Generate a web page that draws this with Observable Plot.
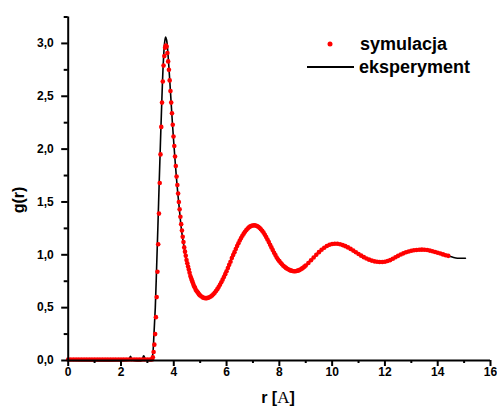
<!DOCTYPE html>
<html><head><meta charset="utf-8">
<script src="https://cdn.jsdelivr.net/npm/d3@7"></script>
<script src="https://cdn.jsdelivr.net/npm/@observablehq/plot@0.6"></script>
<style>body{margin:0;background:#fff}</style>
</head><body><div id="chart"></div>
<script>
// tick values
const xTicks = [0, 2, 4, 6, 8, 10, 12, 14, 16];
const xMinor = [1, 3, 5, 7, 9, 11, 13, 15];
const yTicks = [0, 0.5, 1, 1.5, 2, 2.5, 3];
const yMinor = [0.25, 0.75, 1.25, 1.75, 2.25, 2.75, 3.25];

// legend labels
const seriesNames = ["symulacja", "eksperyment"];

// experiment (line)
const expR = [0,2.2,2.3,2.36,2.42,2.5,2.78,2.86,2.94,3.05,
  3.15,3.2,3.25,3.3,3.35,3.4,3.45,3.5,3.55,3.6,
  3.65,3.69,3.73,3.78,3.85,3.9,3.95,4.0,4.05,4.1,
  4.15,4.2,4.3,4.4,4.5,4.6,4.7,4.8,4.9,5.0,
  5.1,5.2,5.3,5.4,5.5,5.6,5.7,5.8,5.9,6.0,
  6.1,6.2,6.3,6.4,6.5,6.6,6.7,6.8,6.9,7.0,
  7.1,7.2,7.3,7.4,7.5,7.6,7.7,7.8,7.9,8.0,
  8.2,8.4,8.6,8.8,9.0,9.2,9.4,9.6,9.8,10.0,
  10.2,10.4,10.6,10.8,11.0,11.2,11.4,11.6,11.8,12.0,
  12.2,12.4,12.6,12.8,13.0,13.2,13.4,13.6,13.8,14.0,
  14.2,14.4,14.6,14.75,15.05];
const expG = [0,0,0.005,0.04,0.005,0,0,0.045,0.005,0,
  0,0.05,0.25,0.50,0.88,1.28,1.70,2.10,2.48,2.80,
  3.00,3.06,3.03,2.90,2.64,2.44,2.24,2.06,1.89,1.73,
  1.59,1.46,1.22,1.06,0.93,0.83,0.75,0.685,0.64,0.61,
  0.59,0.58,0.585,0.60,0.625,0.655,0.695,0.745,0.80,0.855,
  0.915,0.975,1.03,1.09,1.145,1.19,1.228,1.258,1.275,1.285,
  1.283,1.27,1.248,1.213,1.17,1.12,1.07,1.02,0.975,0.94,
  0.886,0.855,0.845,0.861,0.899,0.948,1.0,1.048,1.083,1.102,
  1.104,1.092,1.07,1.04,1.008,0.978,0.954,0.938,0.932,0.935,
  0.95,0.977,1.003,1.024,1.038,1.046,1.049,1.045,1.034,1.02,
  1.004,0.99,0.975,0.968,0.968];

// simulation (dots)
const simR = [
  0,0.1,0.2,0.3,0.4,0.5,0.6,0.7,0.8,0.9,1.0,1.1,1.2,1.3,1.4,1.5,
  1.6,1.7,1.8,1.9,2.0,2.1,2.2,2.3,2.4,2.5,2.6,2.7,2.8,2.9,3.0,3.1,
  3.178,3.207,3.236,3.265,3.294,3.323,3.352,3.381,3.410,3.439,
  3.468,3.497,3.526,3.555,3.584,3.613,3.642,3.671,3.700,3.729,
  3.758,3.787,3.816,3.845,3.874,3.903,3.932,3.961,3.990,4.019,
  4.048,4.077,4.106,4.135,4.164,4.193,4.222,4.251,4.280,4.309,
  4.338,4.367,4.396,4.425,4.454,4.483,4.512,4.541,4.570,4.599,
  4.628,4.657,4.686,4.715,4.744,4.773,4.802,4.831,4.860,4.889,
  4.918,4.947,4.976,
  5.00,5.05,5.10,5.15,5.20,5.25,5.30,5.35,5.40,5.45,
  5.50,5.55,5.60,5.65,5.70,5.75,5.80,5.85,5.90,5.95,
  6.00,6.05,6.10,6.15,6.20,6.25,6.30,6.35,6.40,6.45,
  6.50,6.55,6.60,6.65,6.70,6.75,6.80,6.85,6.90,6.95,
  7.00,7.05,7.10,7.15,7.20,7.25,7.30,7.35,7.40,7.45,
  7.50,7.55,7.60,7.65,7.70,7.75,7.80,7.85,7.90,7.95,
  8.00,8.05,8.10,8.15,8.20,8.25,8.30,8.35,8.40,8.45,
  8.50,8.55,8.60,8.65,8.70,8.75,8.80,8.85,8.90,8.95,9.00,
  9.1,9.2,9.3,9.4,9.5,9.6,9.7,9.8,9.9,10.0,
  10.1,10.2,10.3,10.4,10.5,10.6,10.7,10.8,10.9,11.0,
  11.1,11.2,11.3,11.4,11.5,11.6,11.7,11.8,11.9,12.0,
  12.1,12.2,12.3,12.4,12.5,12.6,12.7,12.8,12.9,13.0,
  13.1,13.2,13.3,13.4,13.5,13.6,13.7,13.8,13.9,14.0,
  14.1,14.2,14.3,14.4];
const simG = [
  0.01,0.01,0.01,0.01,0.01,0.01,0.01,0.01,0.01,0.01,0.01,0.01,0.01,0.01,0.01,0.01,
  0.01,0.01,0.01,0.01,0.01,0.01,0.01,0.01,0.01,0.01,0.01,0.01,0.01,0.01,0.01,0.01,
  0.01,0.03,0.08,0.15,0.25,0.41,0.60,0.84,1.10,1.39,
  1.68,1.95,2.21,2.44,2.64,2.79,2.88,2.96,2.98,2.97,
  2.91,2.83,2.75,2.65,2.55,2.44,2.34,2.23,2.12,2.03,
  1.93,1.84,1.74,1.66,1.58,1.50,1.43,1.36,1.29,1.23,
  1.17,1.12,1.07,1.03,0.99,0.95,0.92,0.89,0.86,0.83,
  0.80,0.78,0.76,0.74,0.72,0.70,0.69,0.67,0.66,0.65,
  0.64,0.63,0.62,
  0.615,0.605,0.597,0.592,0.590,0.590,0.593,0.598,0.605,0.615,
  0.627,0.641,0.657,0.675,0.695,0.717,0.740,0.765,0.790,0.817,
  0.845,0.875,0.905,0.935,0.970,0.998,1.025,1.055,1.083,1.110,
  1.135,1.158,1.180,1.200,1.218,1.234,1.248,1.260,1.269,1.275,
  1.278,1.280,1.278,1.273,1.265,1.255,1.242,1.228,1.210,1.190,
  1.168,1.145,1.120,1.095,1.070,1.045,1.020,0.997,0.975,0.956,
  0.940,0.925,0.910,0.897,0.886,0.876,0.868,0.861,0.855,0.850,
  0.847,0.845,0.845,0.847,0.850,0.855,0.861,0.869,0.878,0.888,0.899,
  0.922,0.948,0.975,1.000,1.025,1.048,1.067,1.083,1.095,1.102,
  1.105,1.104,1.100,1.092,1.082,1.070,1.056,1.040,1.024,1.008,
  0.992,0.978,0.965,0.954,0.945,0.938,0.934,0.932,0.932,0.935,
  0.941,0.950,0.963,0.977,0.990,1.003,1.014,1.024,1.032,1.038,
  1.043,1.046,1.048,1.049,1.048,1.045,1.040,1.034,1.027,1.020,
  1.012,1.004,0.996,0.990];

const exp = expR.map((r, i) => ({r, g: expG[i]}));
const sim = simR.map((r, i) => ({r, g: simG[i]}));

const fmtY = d => d.toFixed(1).replace(".", ",");
const font = "'Liberation Sans', Arial, sans-serif";

const chart = Plot.plot({
  width: 497, height: 408,
  marginLeft: 67.7, marginRight: 7, marginTop: 16.5, marginBottom: 48,
  style: {fontFamily: font, background: "#fff", color: "#000", overflow: "visible"},
  x: {domain: [0, 16]},
  y: {domain: [0, 3.25]},
  marks: [
    Plot.line(exp, {x: "r", y: "g", stroke: "#000", strokeWidth: 1.6, curve: "catmull-rom"}),
    Plot.dot(sim, {x: "r", y: "g", r: 2.3, fill: "#ff0000", stroke: null}),
    Plot.ruleY([0], {stroke: "#000", strokeWidth: 2}),
    Plot.ruleX([0], {stroke: "#000", strokeWidth: 2}),
    Plot.axisX({ticks: xTicks, tickSize: 6, tickPadding: 1, tickFormat: d => String(d),
      fontSize: 12, fontWeight: "bold", strokeWidth: 2, label: null}),
    Plot.axisX({ticks: xMinor, tickSize: 3, fill: "none", strokeWidth: 2, label: null}),
    Plot.axisY({ticks: yTicks, tickSize: 6.5, tickPadding: 8, tickFormat: fmtY,
      fontSize: 12, fontWeight: "bold", strokeWidth: 2, label: null}),
    Plot.axisY({ticks: yMinor, tickSize: 4, fill: "none", strokeWidth: 2, label: null})
  ]
});

const svg = d3.select(chart);
// axis titles
svg.append("text")
  .attr("transform", "translate(24,200) rotate(-90)")
  .attr("text-anchor", "middle")
  .style("font", "bold 16px " + font)
  .attr("fill", "#000")
  .text("g(r)");
const xt = svg.append("text")
  .attr("x", 278).attr("y", 403)
  .attr("text-anchor", "middle")
  .attr("fill", "#000")
  .style("font", "bold 16px " + font);
xt.append("tspan").text("r [");
xt.append("tspan").style("font", "17px 'Liberation Serif', 'Times New Roman', serif").text("A");
xt.append("tspan").text("]");

// legend
const lg = svg.append("g").style("font", "bold 18px " + font)
  .attr("fill", "#000").attr("text-anchor", "start");
lg.append("circle").attr("cx", 330).attr("cy", 44).attr("r", 2.5).attr("fill", "#ff0000");
lg.append("text").attr("x", 360).attr("y", 50).text(seriesNames[0]);
lg.append("line").attr("x1", 307).attr("x2", 354).attr("y1", 67).attr("y2", 67)
  .attr("stroke", "#000").attr("stroke-width", 2);
lg.append("text").attr("x", 359).attr("y", 73).text(seriesNames[1]);

document.getElementById("chart").appendChild(chart);
</script>
</body></html>
